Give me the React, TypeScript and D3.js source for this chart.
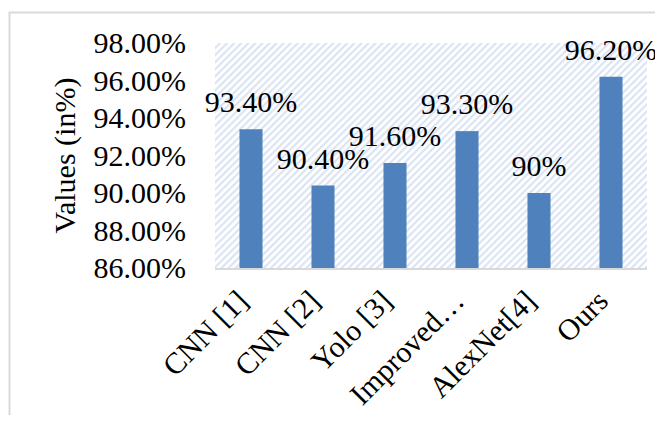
import React, { useRef, useEffect } from "react";
import * as d3 from "d3";

const categories = ["CNN [1]", "CNN [2]", "Yolo [3]", "Improved…", "AlexNet[4]", "Ours"];
const values = [93.4, 90.4, 91.6, 93.3, 90.0, 96.2];
const valueLabels = ["93.40%", "90.40%", "91.60%", "93.30%", "90%", "96.20%"];
const yTicks = [86, 88, 90, 92, 94, 96, 98];

export default function App() {
  const ref = useRef<SVGSVGElement>(null);

  useEffect(() => {
    if (!ref.current) return;
    const svg = d3.select(ref.current);
    svg.selectAll("*").remove();

    const width = 663;
    const height = 423;
    const m = { left: 215, right: 16, top: 44, bottom: 156 };
    const font = "'Liberation Serif', 'Times New Roman', serif";

    svg.append("rect").attr("width", width).attr("height", height).attr("fill", "#fff");

    // outer chart border (runs off the right and bottom edge)
    svg.append("rect")
      .attr("x", 9.5).attr("y", 12.5)
      .attr("width", width + 10).attr("height", height + 10)
      .attr("fill", "none").attr("stroke", "#d9d9d9").attr("stroke-width", 2);

    const defs = svg.append("defs");
    const pat = defs.append("pattern")
      .attr("id", "hatch").attr("patternUnits", "userSpaceOnUse")
      .attr("width", 5).attr("height", 5)
      .attr("patternTransform", "rotate(45)");
    pat.append("rect").attr("width", 5).attr("height", 5).attr("fill", "#fff");
    pat.append("rect").attr("width", 2.2).attr("height", 5).attr("fill", "#dae4f3");

    const x = d3.scaleBand<string>().domain(categories).range([m.left, width - m.right]);
    const y = d3.scaleLinear().domain([86, 98]).range([height - m.bottom + 1, m.top - 1]);

    svg.append("rect")
      .attr("x", m.left).attr("y", y(98))
      .attr("width", width - m.right - m.left).attr("height", y(86) - y(98))
      .attr("fill", "url(#hatch)");

    const bw = x.bandwidth() * 0.32;
    svg.selectAll("rect.bar").data(values).enter().append("rect")
      .attr("class", "bar")
      .attr("x", (_, i) => x(categories[i])! + x.bandwidth() / 2 - bw / 2)
      .attr("y", d => y(d))
      .attr("width", bw)
      .attr("height", d => y(86) - y(d))
      .attr("fill", "#4f81bd");

    // bottom axis line
    svg.append("line")
      .attr("x1", m.left).attr("x2", width - m.right)
      .attr("y1", y(86) + 1).attr("y2", y(86) + 1)
      .attr("stroke", "#d9d9d9").attr("stroke-width", 2);

    // value labels
    svg.selectAll("text.val").data(values).enter().append("text")
      .attr("class", "val")
      .attr("x", (_, i) => x(categories[i])! + x.bandwidth() / 2)
      .attr("y", d => y(d) - 17)
      .attr("text-anchor", "middle")
      .style("font-family", font).style("font-size", "30px").attr("fill", "#000")
      .text((_, i) => valueLabels[i]);

    // y ticks
    svg.selectAll("text.ytick").data(yTicks).enter().append("text")
      .attr("class", "ytick")
      .attr("x", 186).attr("y", d => y(d))
      .attr("dy", "0.34em")
      .attr("text-anchor", "end")
      .style("font-family", font).style("font-size", "30px").attr("fill", "#000")
      .text(d => d.toFixed(2) + "%");

    // x labels
    svg.selectAll("text.xlab").data(categories).enter().append("text")
      .attr("class", "xlab")
      .attr("transform", d => `translate(${x(d)! + x.bandwidth() / 2 - 16},${height - m.bottom + 21}) rotate(-45)`)
      .attr("dy", "0.7em")
      .attr("text-anchor", "end")
      .style("font-family", font).style("font-size", "30px").attr("fill", "#000")
      .text(d => d);

    // y axis title
    svg.append("text")
      .attr("transform", `translate(75,${(y(86) + y(98)) / 2}) rotate(-90)`)
      .attr("text-anchor", "middle")
      .style("font-family", font).style("font-size", "30px").attr("fill", "#000")
      .text("Values (in%)");
  }, []);

  return (
    <div style={{ margin: -8 }}>
      <svg ref={ref} width={663} height={423} style={{ display: "block" }} />
    </div>
  );
}
